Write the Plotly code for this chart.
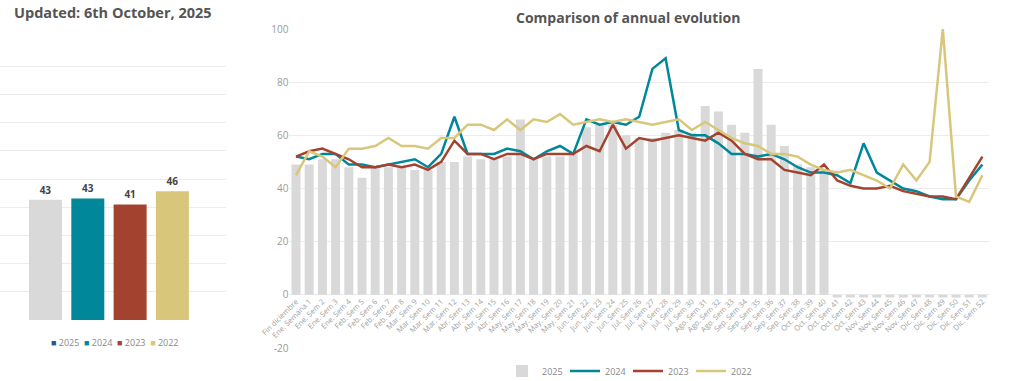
import plotly.graph_objects as go

# ---------------- data ----------------
weeks = [
    "Fin diciembre", "Ene. Semana 1", "Ene. Sem 2", "Ene. Sem 3", "Ene. Sem 4",
    "Feb. Sem 5", "Feb. Sem 6", "Feb. Sem 7", "Feb. Sem 8",
    "Mar. Sem 9", "Mar. Sem 10", "Mar. Sem 11", "Mar. Sem 12",
    "Abr. Sem 13", "Abr. Sem 14", "Abr. Sem 15", "Abr. Sem 16",
    "May. Sem 17", "May. Sem 18", "May. Sem 19", "May. Sem 20", "May. Sem 21",
    "Jun. Sem 22", "Jun. Sem 23", "Jun. Sem 24", "Jun. Sem 25",
    "Jul. Sem 26", "Jul. Sem 27", "Jul. Sem 28", "Jul. Sem 29", "Jul. Sem 30",
    "Ago. Sem 31", "Ago. Sem 32", "Ago. Sem 33",
    "Sep. Sem 34", "Sep. Sem 35", "Sep. Sem 36", "Sep. Sem 37", "Sep. Sem 38",
    "Oct. Sem 39", "Oct. Sem 40", "Oct. Sem 41", "Oct. Sem 42", "Oct. Sem 43",
    "Nov. Sem 44", "Nov. Sem 45", "Nov. Sem 46", "Nov. Sem 47",
    "Dic. Sem 48", "Dic. Sem 49", "Dic. Sem 50", "Dic. Sem 51", "Dic. Sem 52",
]

v2025 = [49, 49, 51, 51, 48, 44, 48, 48, 48, 47, 47, 50, 50, 52, 51, 51, 52, 66,
         51, 52, 52, 53, 63, 64, 64, 60, 59, 59, 61, 62, 61, 71, 69, 64, 61, 85,
         64, 56, 49, 48, 47,
         -1, -1, -1, -1, -1, -1, -1, -1, -1, -1, -1, -1]

v2024 = [52, 51, 53, 53, 49, 49, 48, 49, 50, 51, 48, 53, 67, 53, 53, 53, 55, 54,
         51, 54, 56, 53, 66, 64, 65, 64, 67, 85, 89, 62, 60, 60, 57, 53, 53, 52,
         53, 51, 48, 46, 46, 45, 42, 57, 46, 43, 40, 39, 37, 36, 36, 43, 49]

v2023 = [52, 54, 55, 53, 51, 48, 48, 49, 48, 49, 47, 50, 58, 53, 53, 51, 53, 53,
         51, 53, 53, 53, 56, 54, 64, 55, 59, 58, 59, 60, 59, 58, 61, 58, 53, 51,
         51, 47, 46, 45, 49, 43, 41, 40, 40, 41, 39, 38, 37, 37, 36, 44, 52]

v2022 = [45, 54, 52, 48, 55, 55, 56, 59, 56, 56, 55, 59, 59, 64, 64, 62, 66, 62,
         66, 65, 68, 64, 65, 66, 65, 66, 65, 64, 65, 66, 62, 65, 62, 59, 57, 56,
         53, 53, 52, 49, 47, 46, 47, 45, 43, 40, 49, 43, 50, 100, 37, 35, 45]

summary_years = ["2025", "2024", "2023", "2022"]
summary_values = [42.6, 43.1, 41.0, 45.7]

y_tick_vals = [-20, 0, 20, 40, 60, 80, 100]
y_tick_text = ["-20", "0", "20", "40", "60", "80", "100"]

# ---------------- styles ----------------
C_GRAY = "#d9d9d9"
C_TEAL = "#00889a"
C_RED = "#a3432f"
C_GOLD = "#d8c77b"
C_NAVY = "#1f5b88"
GRID = "#ececec"
FONT = "Open Sans"

W = 1024 - 0 - 35   # plot-area width in px
H = 381 - 29 - 33   # plot-area height in px


def px_x(p):
    return p / W


def px_y(p):
    return (348 - p) / H


fig = go.Figure()

# left summary chart
fig.add_trace(go.Bar(
    x=summary_years, y=summary_values, xaxis="x", yaxis="y",
    marker=dict(color=[C_GRAY, C_TEAL, C_RED, C_GOLD], line=dict(width=0)),
    width=0.78,
    text=[f"<b>{round(v)}</b>" for v in summary_values],
    textposition="outside", cliponaxis=False,
    textfont=dict(size=10, color="#444444", family=FONT),
    showlegend=False, hoverinfo="skip",
))

# right comparison chart
fig.add_trace(go.Bar(
    x=weeks, y=v2025, name="2025", xaxis="x2", yaxis="y2",
    marker=dict(color=C_GRAY, line=dict(width=0)), width=0.68,
))
for name, vals, col in [("2024", v2024, C_TEAL), ("2023", v2023, C_RED),
                        ("2022", v2022, C_GOLD)]:
    fig.add_trace(go.Scatter(
        x=weeks, y=vals, name=name, mode="lines", xaxis="x2", yaxis="y2",
        line=dict(color=col, width=2.5),
    ))

left_legend = "&nbsp;&nbsp;".join(
    f"<span style='color:{c}'>■</span> {y}"
    for c, y in zip([C_NAVY, C_TEAL, C_RED, C_GOLD], summary_years)
)

fig.update_layout(
    width=1024, height=381,
    margin=dict(l=0, r=35, t=29, b=33, autoexpand=False),
    paper_bgcolor="white", plot_bgcolor="white",
    font=dict(family=FONT, color="#999999"),
    bargap=0.3,
    xaxis=dict(domain=[0, px_x(226)], range=[-1.076, 4.267],
               showticklabels=False, showgrid=False, zeroline=False,
               showline=False, ticks="", fixedrange=True, automargin=False),
    yaxis=dict(domain=[px_y(320), px_y(38)], range=[0, 100], dtick=10,
               showticklabels=False, gridcolor=GRID, gridwidth=1,
               zeroline=False, anchor="x", ticks="", automargin=False),
    xaxis2=dict(domain=[px_x(289.4), 1], anchor="free", position=1 / 6,
                tickangle=-45, tickfont=dict(size=7.5, color="#a0a0a0"),
                showgrid=False, zeroline=False, showline=False, ticks="",
                automargin=False),
    yaxis2=dict(domain=[0, 1], range=[-20, 100], anchor="x2",
                tickvals=y_tick_vals, ticktext=y_tick_text,
                tickfont=dict(size=10, color="#9a9a9a"),
                gridcolor=GRID, gridwidth=1, zeroline=False, ticks="",
                automargin=False),
    legend=dict(orientation="h", x=px_x(628), xanchor="center",
                y=px_y(371), yanchor="middle",
                font=dict(size=9, color="#888888"),
                itemwidth=30, entrywidth=18, traceorder="normal"),
    annotations=[
        dict(text="<b>Updated: 6th October, 2025</b>", xref="paper",
             yref="paper", x=px_x(112.5), y=px_y(12), showarrow=False,
             xanchor="center", yanchor="middle",
             font=dict(size=14.5, color="#555555", family=FONT)),
        dict(text="<b>Comparison of annual evolution</b>", xref="paper",
             yref="paper", x=px_x(628), y=px_y(17), showarrow=False,
             xanchor="center", yanchor="middle",
             font=dict(size=14, color="#555555", family=FONT)),
        dict(text=left_legend, xref="paper", yref="paper",
             x=px_x(115), y=px_y(342), showarrow=False,
             xanchor="center", yanchor="middle",
             font=dict(size=9, color="#888888", family=FONT)),
    ],
)

fig.write_html(
    "out.html",
    config={"displayModeBar": False},
    post_script="document.body.style.margin='0';document.body.style.overflow='hidden';",
)
